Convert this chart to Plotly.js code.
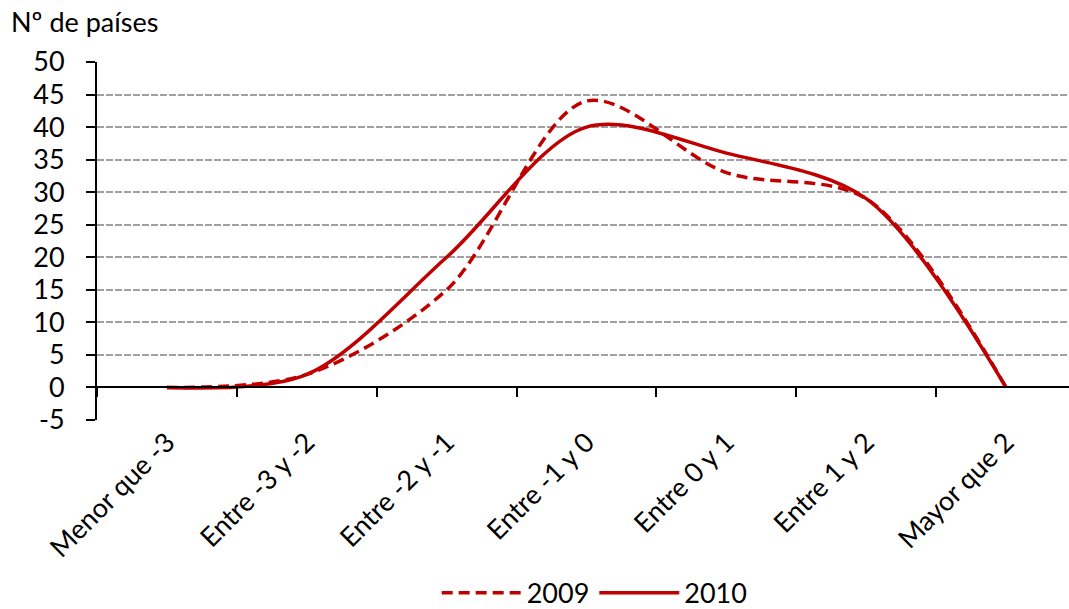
<!DOCTYPE html>
<html>
<head>
<meta charset="utf-8">
<script src="https://cdn.plot.ly/plotly-3.0.1.min.js"></script>
<style>
html,body{margin:0;padding:0;background:#fff;}
#chart{width:1069px;height:609px;}
</style>
</head>
<body>
<div id="chart"></div>
<script>
const categories = ["Menor que -3", "Entre -3 y -2", "Entre -2 y -1", "Entre -1 y 0", "Entre 0 y 1", "Entre 1 y 2", "Mayor que 2"];
const values2009 = [0, 2, 15, 44, 33, 29, 0];
const values2010 = [0, 2, 20, 40, 36, 29, 0];
const yTicks = [-5, 0, 5, 10, 15, 20, 25, 30, 35, 40, 45, 50];
const yTickLabels = ["-5", "0", "5", "10", "15", "20", "25", "30", "35", "40", "45", "50"];
const boundaries = [-0.5, 0.5, 1.5, 2.5, 3.5, 4.5, 5.5, 6.5];

const FONT = "Lato, 'Open Sans', sans-serif";
const FS = 27;
const RED = "#C00000";
const yMin = -5, yMax = 50;
const xRange = [-0.5, 6.45];

const traces = [
  {
    x: categories, y: values2009, name: "2009", type: "scatter", mode: "lines",
    line: {color: RED, width: 3.5, dash: "11px,6px", shape: "spline", smoothing: 0.9}
  },
  {
    x: categories, y: values2010, name: "2010", type: "scatter", mode: "lines",
    line: {color: RED, width: 3.5, shape: "spline", smoothing: 0.9}
  },
  {
    // invisible helper so the category-boundary axis (x2) is drawn at y = 0
    x: boundaries, y: boundaries.map(() => 0), xaxis: "x2", yaxis: "y",
    type: "scatter", mode: "none", showlegend: false, hoverinfo: "skip"
  }
];

const layout = {
  width: 1069, height: 609,
  paper_bgcolor: "#fff", plot_bgcolor: "#fff",
  margin: {l: 97, r: 0, t: 62, b: 189},
  font: {family: FONT, size: FS, color: "#000"},
  showlegend: true,
  legend: {
    orientation: "h", x: 0.512, xanchor: "center",
    yref: "container", y: 0.026, yanchor: "middle",
    font: {family: FONT, size: FS, color: "#000"}, itemwidth: 80, traceorder: "normal"
  },
  xaxis: {
    type: "category", range: xRange, showline: false, showgrid: false, zeroline: false,
    automargin: false,
    ticks: "", tickangle: -45, tickfont: {family: FONT, size: FS, color: "#000"}
  },
  xaxis2: {
    type: "linear", overlaying: "x", anchor: "free", side: "bottom",
    position: (0 - yMin) / (yMax - yMin), automargin: false,
    range: xRange, tickmode: "array", tickvals: boundaries,
    showticklabels: false, ticks: "outside", ticklen: 9, tickwidth: 2, tickcolor: "#000",
    showline: true, linecolor: "#000", linewidth: 2, showgrid: false, zeroline: false
  },
  yaxis: {
    range: [yMin, yMax], tickmode: "array", tickvals: yTicks, ticktext: yTickLabels,
    automargin: false,
    showline: true, linecolor: "#000", linewidth: 2,
    ticks: "outside", ticklen: 9, tickwidth: 2, tickcolor: "#000", ticklabelstandoff: 16,
    showgrid: true, gridcolor: "#a0a0a0", gridwidth: 2, griddash: "7px,2px",
    zeroline: true, zerolinecolor: "#000", zerolinewidth: 2,
    tickfont: {family: FONT, size: FS, color: "#000"}
  },
  annotations: [
    {text: "Nº de países", xref: "paper", yref: "paper", x: -0.091, y: 1.112,
     xanchor: "left", yanchor: "middle", showarrow: false,
     font: {family: FONT, size: FS, color: "#000"}}
  ]
};

Plotly.newPlot("chart", traces, layout, {displayModeBar: false, staticPlot: true});
</script>
</body>
</html>
